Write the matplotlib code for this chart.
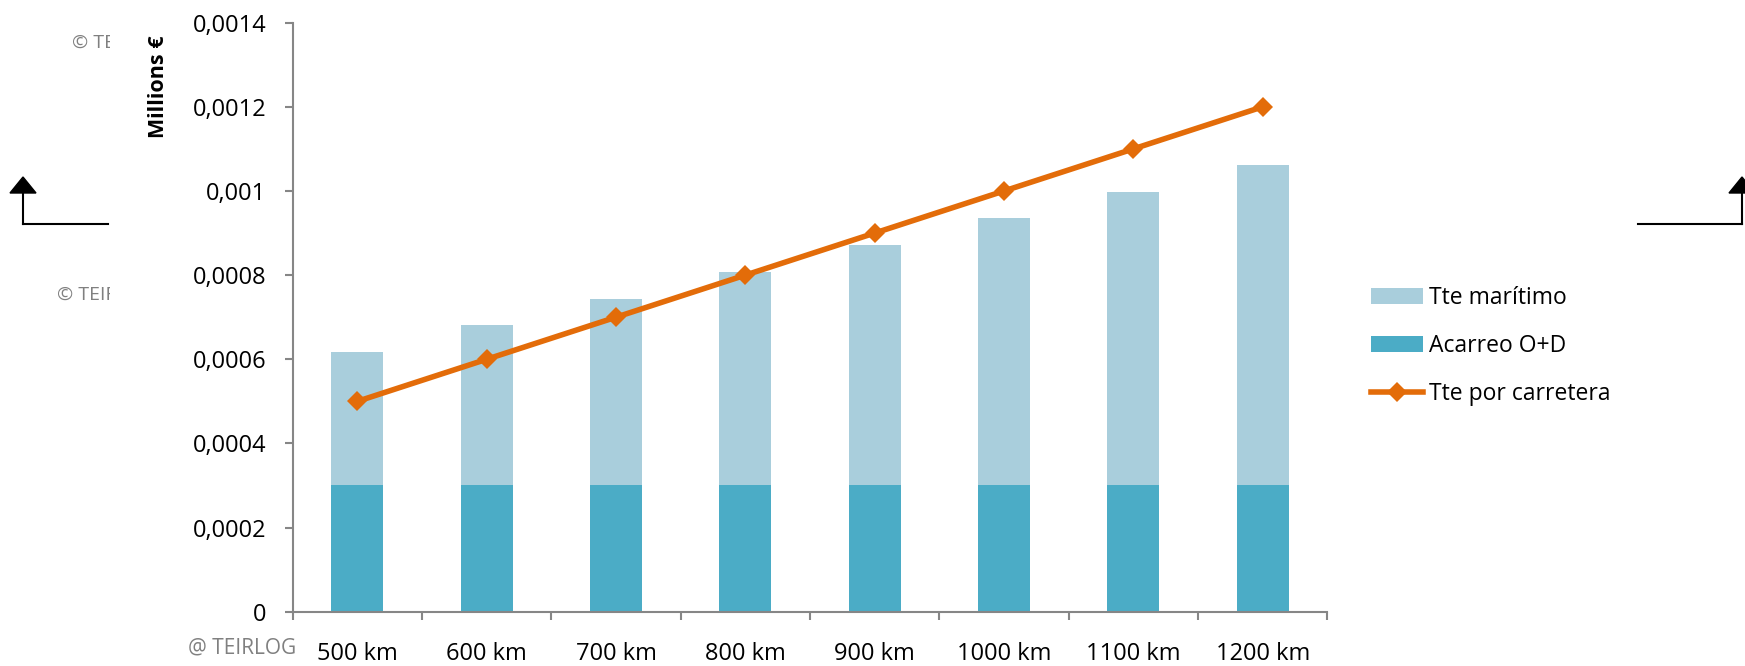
import matplotlib
matplotlib.use("Agg")
import matplotlib.pyplot as plt
from matplotlib.lines import Line2D
from matplotlib.patches import Polygon
from matplotlib.ticker import FuncFormatter, FixedLocator

plt.rcParams['font.family'] = ['Open Sans', 'DejaVu Sans']

# data
categories = ["500 km", "600 km", "700 km", "800 km", "900 km", "1000 km", "1100 km", "1200 km"]
acarreo = [0.0003, 0.0003, 0.0003, 0.0003, 0.0003, 0.0003, 0.0003, 0.0003]
maritimo = [0.000317, 0.000381, 0.000444, 0.000508, 0.000571, 0.000635, 0.000698, 0.000762]
carretera = [0.0005, 0.0006, 0.0007, 0.0008, 0.0009, 0.001, 0.0011, 0.0012]
yticks = [0, 0.0002, 0.0004, 0.0006, 0.0008, 0.001, 0.0012, 0.0014]

c_mar = "#A9CEDC"
c_aca = "#4BACC6"
c_road = "#E36C09"
c_axis = "#868686"
c_wm = "#808080"

W, H = 1745, 666
fig = plt.figure(figsize=(W / 100, H / 100), dpi=100)


def px(x, y):
    return x / W, 1 - y / H


# watermark text, partly hidden behind the chart area
fig.text(*px(72, 43), "© TEI", color=c_wm, fontsize=14, va="center", zorder=-3)
fig.text(*px(57, 295), "© TEIR", color=c_wm, fontsize=14, va="center", zorder=-3)
fig.add_artist(plt.Rectangle(px(110, H), (1637 - 110) / W, 1, transform=fig.transFigure,
                             facecolor="white", edgecolor="none", zorder=-2))
fig.text(*px(188, 648), "@ TEIRLOG", color=c_wm, fontsize=15, va="center", zorder=2)

# the two connector arrows
for xs, xe, xa in [(23, 108, 23), (1638, 1742, 1742)]:
    fig.add_artist(Line2D([xs / W, xe / W], [1 - 224 / H] * 2, transform=fig.transFigure,
                          color="black", lw=1.5, zorder=-1))
    fig.add_artist(Line2D([xa / W, xa / W], [1 - 224 / H, 1 - 190 / H], transform=fig.transFigure,
                          color="black", lw=1.5, zorder=-1))
    fig.add_artist(Polygon([px(xa, 177), px(xa - 13, 193), px(xa + 13, 193)], closed=True,
                           transform=fig.transFigure, color="black", zorder=-1))

ax = fig.add_axes([292.7 / W, 1 - 611.7 / H, (1327.3 - 292.7) / W, (611.7 - 22.7) / H])
x = list(range(len(categories)))
ax.bar(x, acarreo, width=0.4, color=c_aca, label="Acarreo O+D", zorder=2)
ax.bar(x, maritimo, width=0.4, bottom=acarreo, color=c_mar, label="Tte marítimo", zorder=2)
ax.plot(x, carretera, color=c_road, lw=4, marker="D", markersize=10, markeredgewidth=0,
        label="Tte por carretera", zorder=3)

ax.set_xlim(-0.5, len(categories) - 0.5)
ax.set_ylim(0, 0.0014)
ax.set_yticks(yticks)
ax.yaxis.set_major_formatter(FuncFormatter(lambda v, p: "0" if v == 0 else f"{v:g}".replace(".", ",")))
ax.set_xticks(x)
ax.set_xticklabels(categories)
ax.xaxis.set_minor_locator(FixedLocator([i - 0.5 for i in range(len(categories) + 1)]))
ax.tick_params(axis="x", which="major", length=0, pad=22, labelsize=17)
ax.tick_params(axis="x", which="minor", length=6, width=1.5, color=c_axis)
ax.tick_params(axis="y", length=6, width=1.5, color=c_axis, pad=13, labelsize=17)

for s in ["top", "right"]:
    ax.spines[s].set_visible(False)
for s in ["left", "bottom"]:
    ax.spines[s].set_color(c_axis)
    ax.spines[s].set_linewidth(1.5)

fig.text(*px(158, 87), "Millions €", rotation=90, fontsize=15.5, fontweight="bold",
         ha="center", va="center")

handles, labels = ax.get_legend_handles_labels()
lookup = dict(zip(labels, handles))
leg_order = ["Tte marítimo", "Acarreo O+D", "Tte por carretera"]
ax.legend([lookup[k] for k in leg_order], leg_order,
          loc="center left", bbox_to_anchor=(1350 / W, 1 - 346 / H), bbox_transform=fig.transFigure,
          frameon=False, fontsize=16.5, handlelength=2.3, handleheight=0.66,
          handletextpad=0.25, labelspacing=1.05)

fig.savefig("out.png", dpi=100)
